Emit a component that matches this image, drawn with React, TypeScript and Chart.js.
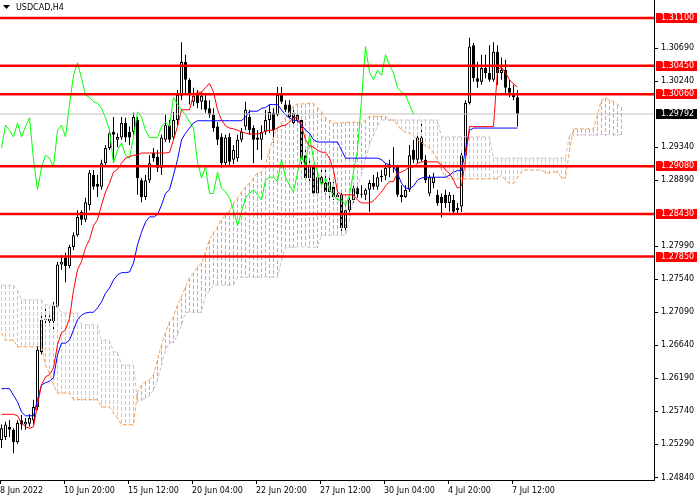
import React, { useEffect, useRef } from "react";
import { Chart, registerables } from "chart.js";

Chart.register(...registerables);

const symbolTitle = "USDCAD,H4";

const xTickLabels = ["8 Jun 2022", "10 Jun 20:00", "15 Jun 12:00", "20 Jun 04:00", "22 Jun 20:00", "27 Jun 12:00", "30 Jun 04:00", "4 Jul 20:00", "7 Jul 12:00"];
const xTickBars = [0, 16, 32, 48, 64, 80, 96, 112, 128];

const yTickValues = [1.3069, 1.3024, 1.2934, 1.2889, 1.2799, 1.2754, 1.2709, 1.2664, 1.2619, 1.2574, 1.2529, 1.2484];

const levelValues = [1.311, 1.3045, 1.3006, 1.2908, 1.2843, 1.2785];

const opens = [
  1.2535, 1.2539, 1.2553, 1.2549, 1.2532, 1.2562, 1.2556, 1.2557, 1.2562, 1.2580,
  1.2655, 1.2699, 1.2700, 1.2697, 1.2716, 1.2774, 1.2783, 1.2772, 1.2798, 1.2814,
  1.2846, 1.2835, 1.2855, 1.2896, 1.2884, 1.2880, 1.2912, 1.2933, 1.2955, 1.2944,
  1.2947, 1.2967, 1.2955, 1.2955, 1.2971, 1.2889, 1.2866, 1.2889, 1.2926, 1.2921,
  1.2906, 1.2944, 1.2964, 1.2947, 1.2971, 1.3004, 1.3050, 1.3026, 1.2996, 1.3005,
  1.2996, 1.2998, 1.2987, 1.2978, 1.2962, 1.2948, 1.2912, 1.2948, 1.2917, 1.2919,
  1.2944, 1.2962, 1.2975, 1.2960, 1.2947, 1.2944, 1.2955, 1.2971, 1.2981, 1.2978,
  1.3005, 1.2992, 1.2992, 1.2981, 1.2978, 1.2971, 1.2923, 1.2892, 1.2907, 1.2871,
  1.2893, 1.2885, 1.2873, 1.2880, 1.2866, 1.2869, 1.2824, 1.2848, 1.2862, 1.2878,
  1.2870, 1.2869, 1.2876, 1.2885, 1.2880, 1.2893, 1.2895, 1.2906, 1.2910, 1.2907,
  1.2869, 1.2866, 1.2876, 1.2930, 1.2917, 1.2947, 1.2917, 1.2871, 1.2885, 1.2869,
  1.2866, 1.2869, 1.2858, 1.2862, 1.2848, 1.2853, 1.2923, 1.2994, 1.3073, 1.3028,
  1.3023, 1.3042, 1.3035, 1.3026, 1.3064, 1.3035, 1.3039, 1.3015, 1.3008, 1.3002,
];

const highs = [
  1.2556, 1.2560, 1.2562, 1.2551, 1.2562, 1.2569, 1.2565, 1.2570, 1.2590, 1.2665,
  1.2704, 1.2716, 1.2705, 1.2723, 1.2778, 1.2787, 1.2790, 1.2801, 1.2818, 1.2848,
  1.2848, 1.2865, 1.2903, 1.2903, 1.2896, 1.2917, 1.2937, 1.2957, 1.2975, 1.2953,
  1.2975, 1.2974, 1.2962, 1.2981, 1.2975, 1.2892, 1.2896, 1.2923, 1.2933, 1.2930,
  1.2951, 1.2978, 1.2971, 1.2982, 1.3012, 1.3077, 1.3060, 1.3028, 1.3015, 1.3012,
  1.3009, 1.3005, 1.2998, 1.2987, 1.2968, 1.2953, 1.2951, 1.2953, 1.2937, 1.2951,
  1.2960, 1.2996, 1.2985, 1.2964, 1.2957, 1.2964, 1.2985, 1.2992, 1.2987, 1.3016,
  1.3016, 1.2998, 1.2998, 1.2987, 1.2985, 1.2974, 1.2930, 1.2917, 1.2912, 1.2900,
  1.2910, 1.2906, 1.2892, 1.2887, 1.2876, 1.2873, 1.2855, 1.2869, 1.2882, 1.2885,
  1.2882, 1.2878, 1.2889, 1.2896, 1.2900, 1.2903, 1.2912, 1.2917, 1.2934, 1.2910,
  1.2882, 1.2882, 1.2937, 1.2944, 1.2953, 1.2967, 1.2923, 1.2896, 1.2899, 1.2876,
  1.2871, 1.2876, 1.2873, 1.2869, 1.2858, 1.2926, 1.2998, 1.3083, 1.3076, 1.3050,
  1.3060, 1.3060, 1.3073, 1.3077, 1.3073, 1.3056, 1.3053, 1.3026, 1.3019, 1.3012,
];

const lows = [
  1.2524, 1.2535, 1.2539, 1.2517, 1.2530, 1.2549, 1.2549, 1.2553, 1.2556, 1.2576,
  1.2652, 1.2690, 1.2689, 1.2681, 1.2714, 1.2767, 1.2750, 1.2769, 1.2794, 1.2812,
  1.2828, 1.2832, 1.2848, 1.2876, 1.2866, 1.2876, 1.2910, 1.2930, 1.2917, 1.2934,
  1.2944, 1.2941, 1.2937, 1.2951, 1.2869, 1.2859, 1.2862, 1.2885, 1.2914, 1.2900,
  1.2896, 1.2941, 1.2940, 1.2944, 1.2964, 1.2998, 1.3005, 1.2992, 1.2990, 1.2987,
  1.2985, 1.2981, 1.2974, 1.2955, 1.2937, 1.2906, 1.2908, 1.2908, 1.2911, 1.2914,
  1.2941, 1.2957, 1.2951, 1.2912, 1.2930, 1.2917, 1.2951, 1.2953, 1.2940, 1.2976,
  1.2993, 1.2982, 1.2971, 1.2962, 1.2964, 1.2910, 1.2889, 1.2882, 1.2866, 1.2867,
  1.2878, 1.2869, 1.2865, 1.2862, 1.2862, 1.2817, 1.2818, 1.2844, 1.2858, 1.2865,
  1.2865, 1.2862, 1.2846, 1.2876, 1.2876, 1.2887, 1.2889, 1.2893, 1.2899, 1.2866,
  1.2859, 1.2865, 1.2873, 1.2912, 1.2912, 1.2914, 1.2885, 1.2867, 1.2878, 1.2854,
  1.2838, 1.2851, 1.2846, 1.2843, 1.2844, 1.2846, 1.2919, 1.2992, 1.3023, 1.3015,
  1.3019, 1.3028, 1.3023, 1.3023, 1.3019, 1.3026, 1.3005, 1.3002, 1.2998, 1.2962,
];

const closes = [
  1.2551, 1.2556, 1.2549, 1.2532, 1.2558, 1.2556, 1.2560, 1.2565, 1.2580, 1.2658,
  1.2699, 1.2700, 1.2697, 1.2718, 1.2774, 1.2778, 1.2772, 1.2798, 1.2814, 1.2839,
  1.2835, 1.2859, 1.2899, 1.2880, 1.2880, 1.2912, 1.2933, 1.2953, 1.2951, 1.2948,
  1.2967, 1.2947, 1.2947, 1.2975, 1.2892, 1.2866, 1.2889, 1.2912, 1.2919, 1.2906,
  1.2947, 1.2964, 1.2944, 1.2971, 1.3005, 1.3050, 1.3026, 1.3005, 1.3004, 1.2994,
  1.3004, 1.2985, 1.2978, 1.2960, 1.2944, 1.2912, 1.2947, 1.2914, 1.2930, 1.2944,
  1.2955, 1.2985, 1.2957, 1.2944, 1.2944, 1.2955, 1.2971, 1.2982, 1.2957, 1.3005,
  1.2996, 1.2985, 1.2975, 1.2967, 1.2971, 1.2917, 1.2892, 1.2910, 1.2871, 1.2893,
  1.2885, 1.2873, 1.2887, 1.2866, 1.2869, 1.2824, 1.2848, 1.2862, 1.2878, 1.2870,
  1.2869, 1.2876, 1.2885, 1.2880, 1.2893, 1.2895, 1.2906, 1.2910, 1.2907, 1.2869,
  1.2866, 1.2876, 1.2923, 1.2917, 1.2947, 1.2917, 1.2889, 1.2893, 1.2893, 1.2858,
  1.2858, 1.2858, 1.2869, 1.2846, 1.2851, 1.2923, 1.2994, 1.3071, 1.3028, 1.3023,
  1.3042, 1.3035, 1.3026, 1.3064, 1.3035, 1.3039, 1.3015, 1.3008, 1.3002, 1.29792,
];

const tenkan = [
  1.2570, 1.2570, 1.2570, 1.2570, 1.2568, 1.2558, 1.2553, 1.2551, 1.2553, 1.2583,
  1.2610, 1.2621, 1.2624, 1.2633, 1.2665, 1.2681, 1.2685, 1.2701, 1.2739, 1.2767,
  1.2778, 1.2797, 1.2808, 1.2827, 1.2835, 1.2855, 1.2873, 1.2885, 1.2900, 1.2904,
  1.2912, 1.2919, 1.2921, 1.2923, 1.2923, 1.2926, 1.2926, 1.2926, 1.2926, 1.2926,
  1.2926, 1.2926, 1.2927, 1.2944, 1.2962, 1.2985, 1.2985, 1.2985, 1.3005, 1.3009,
  1.3009, 1.3015, 1.3021, 1.3009, 1.2985, 1.2971, 1.2963, 1.2960, 1.2959, 1.2957,
  1.2955, 1.2953, 1.2952, 1.2952, 1.2952, 1.2953, 1.2956, 1.2957, 1.2957, 1.2960,
  1.2963, 1.2964, 1.2968, 1.2974, 1.2974, 1.2964, 1.2944, 1.2936, 1.2934, 1.2930,
  1.2927, 1.2927, 1.2919, 1.2903, 1.2873, 1.2869, 1.2869, 1.2869, 1.2869, 1.2862,
  1.2858, 1.2858, 1.2858, 1.2861, 1.2867, 1.2873, 1.2881, 1.2887, 1.2887, 1.2899,
  1.2900, 1.2903, 1.2907, 1.2907, 1.2912, 1.2914, 1.2914, 1.2914, 1.2914, 1.2914,
  1.2910, 1.2903, 1.2898, 1.2889, 1.2878, 1.2881, 1.2917, 1.2962, 1.2962, 1.2962,
  1.2962, 1.2962, 1.2962, 1.2962, 1.3039, 1.3043, 1.3035, 1.3026, 1.3020, 1.3016,
];

const kijun = [
  1.2605, 1.2605, 1.2605, 1.2596, 1.2587, 1.2573, 1.2568, 1.2568, 1.2568, 1.2590,
  1.2610, 1.2613, 1.2615, 1.2620, 1.2651, 1.2667, 1.2667, 1.2671, 1.2685, 1.2699,
  1.2705, 1.2708, 1.2709, 1.2709, 1.2715, 1.2723, 1.2735, 1.2742, 1.2753, 1.2760,
  1.2763, 1.2763, 1.2764, 1.2776, 1.2801, 1.2818, 1.2832, 1.2839, 1.2839, 1.2842,
  1.2855, 1.2871, 1.2876, 1.2896, 1.2917, 1.2944, 1.2953, 1.2960, 1.2967, 1.2970,
  1.2970, 1.2970, 1.2970, 1.2970, 1.2970, 1.2970, 1.2970, 1.2970, 1.2970, 1.2970,
  1.2970, 1.2975, 1.2983, 1.2983, 1.2983, 1.2987, 1.2988, 1.2992, 1.2992, 1.2992,
  1.2985, 1.2978, 1.2974, 1.2971, 1.2970, 1.2964, 1.2957, 1.2953, 1.2944, 1.2941,
  1.2941, 1.2941, 1.2941, 1.2941, 1.2941, 1.2930, 1.2919, 1.2919, 1.2919, 1.2919,
  1.2919, 1.2919, 1.2919, 1.2919, 1.2919, 1.2917, 1.2912, 1.2910, 1.2908, 1.2898,
  1.2885, 1.2878, 1.2878, 1.2881, 1.2889, 1.2892, 1.2893, 1.2893, 1.2893, 1.2893,
  1.2893, 1.2893, 1.2896, 1.2900, 1.2902, 1.2902, 1.2930, 1.2957, 1.2960, 1.2960,
  1.2960, 1.2960, 1.2960, 1.2960, 1.2960, 1.2960, 1.2960, 1.2960, 1.2960, 1.2960,
];

const chikou = [
  1.2933, 1.2964, 1.2957, 1.2948, 1.2967, 1.2948, 1.2962, 1.2974, 1.2917, 1.2876,
  1.2906, 1.2923, 1.2919, 1.2907, 1.2957, 1.2964, 1.2948, 1.2992, 1.3032, 1.3049,
  1.3028, 1.3005, 1.3002, 1.2996, 1.2994, 1.2987, 1.2974, 1.2957, 1.2912, 1.2930,
  1.2940, 1.2923, 1.2919, 1.2948, 1.2982, 1.2975, 1.2957, 1.2947, 1.2947, 1.2947,
  1.2962, 1.2968, 1.2962, 1.3002, 1.2992, 1.2985, 1.2978, 1.2968, 1.2960, 1.2914,
  1.2892, 1.2907, 1.2871, 1.2871, 1.2900, 1.2878, 1.2873, 1.2865, 1.2848, 1.2827,
  1.2846, 1.2865, 1.2871, 1.2876, 1.2869, 1.2862, 1.2889, 1.2893, 1.2893, 1.2887,
  1.2917, 1.2893, 1.2882, 1.2873, 1.2899, 1.2923, 1.2907, 1.2951, 1.2917, 1.2900,
  1.2882, 1.2892, 1.2876, 1.2869, 1.2862, 1.2862, 1.2855, 1.2869, 1.2900, 1.2930,
  1.2998, 1.3071, 1.3036, 1.3026, 1.3039, 1.3032, 1.3060, 1.3046, 1.3035, 1.3015,
  1.3009, 1.3005, 1.2992, 1.2979,
];

const spanA = [
  1.2681, 1.2671, 1.2671, 1.2671, 1.2662, 1.2662, 1.2662, 1.2662, 1.2662, 1.2662,
  1.2662, 1.2637, 1.2626, 1.2610, 1.2599, 1.2599, 1.2599, 1.2599, 1.2590, 1.2590,
  1.2590, 1.2590, 1.2590, 1.2590, 1.2590, 1.2580, 1.2580, 1.2580, 1.2572, 1.2565,
  1.2556, 1.2556, 1.2556, 1.2556, 1.2600, 1.2610, 1.2614, 1.2617, 1.2624, 1.2644,
  1.2665, 1.2681, 1.2696, 1.2703, 1.2719, 1.2730, 1.2744, 1.2756, 1.2763, 1.2771,
  1.2776, 1.2791, 1.2808, 1.2818, 1.2825, 1.2835, 1.2842, 1.2848, 1.2858, 1.2865,
  1.2873, 1.2880, 1.2885, 1.2892, 1.2899, 1.2900, 1.2910, 1.2930, 1.2947, 1.2960,
  1.2967, 1.2974, 1.2982, 1.2990, 1.2993, 1.2993, 1.2993, 1.2994, 1.2994, 1.2988,
  1.2982, 1.2974, 1.2971, 1.2967, 1.2967, 1.2967, 1.2968, 1.2968, 1.2968, 1.2968,
  1.2966, 1.2971, 1.2976, 1.2976, 1.2976, 1.2976, 1.2976, 1.2971, 1.2971, 1.2964,
  1.2957, 1.2955, 1.2953, 1.2949, 1.2944, 1.2940, 1.2936, 1.2933, 1.2926, 1.2917,
  1.2903, 1.2893, 1.2891, 1.2891, 1.2891, 1.2891, 1.2891, 1.2891, 1.2891, 1.2891,
  1.2891, 1.2891, 1.2891, 1.2891, 1.2891, 1.2896, 1.2889, 1.2885, 1.2885, 1.2893,
  1.2900, 1.2903, 1.2903, 1.2903, 1.2903, 1.2903, 1.2899, 1.2899, 1.2900, 1.2900,
  1.2892, 1.2892, 1.2930, 1.2959, 1.2959, 1.2959, 1.2959, 1.2959, 1.2959, 1.2978,
  1.2998, 1.3001, 1.2998, 1.2996, 1.2992, 1.2989,
];

const spanB = [
  1.2746, 1.2746, 1.2746, 1.2746, 1.2739, 1.2726, 1.2726, 1.2726, 1.2726, 1.2726,
  1.2726, 1.2719, 1.2719, 1.2719, 1.2719, 1.2708, 1.2708, 1.2708, 1.2708, 1.2708,
  1.2692, 1.2692, 1.2692, 1.2692, 1.2692, 1.2671, 1.2671, 1.2671, 1.2655, 1.2655,
  1.2637, 1.2637, 1.2637, 1.2637, 1.2587, 1.2590, 1.2592, 1.2596, 1.2603, 1.2617,
  1.2637, 1.2658, 1.2667, 1.2669, 1.2678, 1.2692, 1.2709, 1.2709, 1.2709, 1.2709,
  1.2709, 1.2732, 1.2739, 1.2746, 1.2746, 1.2746, 1.2746, 1.2746, 1.2746, 1.2757,
  1.2757, 1.2757, 1.2757, 1.2757, 1.2757, 1.2757, 1.2757, 1.2757, 1.2757, 1.2757,
  1.2780, 1.2798, 1.2798, 1.2798, 1.2798, 1.2798, 1.2798, 1.2798, 1.2798, 1.2798,
  1.2814, 1.2814, 1.2814, 1.2814, 1.2814, 1.2814, 1.2814, 1.2835, 1.2862, 1.2882,
  1.2896, 1.2917, 1.2937, 1.2951, 1.2962, 1.2971, 1.2971, 1.2971, 1.2971, 1.2971,
  1.2971, 1.2971, 1.2971, 1.2971, 1.2971, 1.2971, 1.2971, 1.2971, 1.2971, 1.2971,
  1.2948, 1.2948, 1.2948, 1.2948, 1.2948, 1.2948, 1.2948, 1.2948, 1.2948, 1.2948,
  1.2948, 1.2948, 1.2948, 1.2919, 1.2919, 1.2919, 1.2919, 1.2919, 1.2919, 1.2919,
  1.2919, 1.2919, 1.2919, 1.2919, 1.2919, 1.2919, 1.2919, 1.2919, 1.2919, 1.2919,
  1.2919, 1.2919, 1.2951, 1.2951, 1.2951, 1.2951, 1.2951, 1.2951, 1.2951, 1.2951,
  1.2951, 1.2951, 1.2951, 1.2951, 1.2951, 1.2951,
];

// ---- layout / style constants ----
const CANVAS_W = 700;
const CANVAS_H = 500;
const PLOT_RIGHT = 654;
const PLOT_BOTTOM = 480;
const BAR_PX = 4;
const X_MIN = -0.375;
const X_MAX = X_MIN + PLOT_RIGHT / BAR_PX;
const Y_MIN = 1.24805;
const Y_MAX = 1.31345;
const FONT_FAMILY = "'DejaVu Sans', 'Liberation Sans', sans-serif";
const FONT_SIZE = 8;
const SANDY = "rgb(244,164,96)";
const THISTLE = "rgb(216,191,216)";
const DASH_ON = 4;
const DASH_PERIOD = 6;
const KUMO_STROKE = 1;

// Kumo: a dotted vertical stroke per bar between Span A and Span B,
// positioned through the chart's own x / y scales, drawn right after the candle bodies.
const kumoPlugin = {
  id: "kumo",
  afterDatasetDraw(chart: any, args: any) {
    if (args.meta._dataset?.label !== "bodies") return;
    const { ctx, chartArea } = chart;
    const xs = chart.scales.x;
    const ys = chart.scales.y;
    ctx.save();
    ctx.beginPath();
    ctx.rect(chartArea.left, chartArea.top, chartArea.right - chartArea.left, chartArea.bottom - chartArea.top);
    ctx.clip();
    spanA.forEach((a, i) => {
      const b = spanB[i];
      const px = Math.floor(xs.getPixelForValue(i));
      const pa = ys.getPixelForValue(a);
      const pb = ys.getPixelForValue(b);
      const top = Math.round(Math.min(pa, pb));
      const bottom = Math.round(Math.max(pa, pb));
      ctx.fillStyle = a >= b ? SANDY : THISTLE;
      for (let yy = top; yy <= bottom; yy += DASH_PERIOD) {
        ctx.fillRect(px, yy, KUMO_STROKE, Math.min(DASH_ON, bottom - yy + 1));
      }
    });
    ctx.restore();
  },
};

const overlayPlugin = {
  id: "mtOverlay",
  afterDraw(chart: any) {
    const { ctx, chartArea } = chart;
    const y = chart.scales.y;
    ctx.save();
    ctx.font = `${FONT_SIZE}px ${FONT_FAMILY}`;
    ctx.textBaseline = "middle";
    ctx.textAlign = "left";
    const box = (value: number, bg: string) => {
      const py = Math.round(y.getPixelForValue(value));
      ctx.fillStyle = bg;
      ctx.fillRect(chartArea.right + 2, py - 5, 41, 10);
      ctx.fillStyle = "#ffffff";
      ctx.fillText(value.toFixed(5), chartArea.right + 7, py);
    };
    levelValues.forEach((l) => box(l, "#ff0000"));
    box(closes[closes.length - 1], "#000000");

    ctx.fillStyle = "#000000";
    ctx.beginPath();
    ctx.moveTo(3, 5);
    ctx.lineTo(10, 5);
    ctx.lineTo(6.5, 9);
    ctx.closePath();
    ctx.fill();
    ctx.fillText(symbolTitle, 16, 8);
    ctx.restore();
  },
};

export default function App() {
  const ref = useRef<HTMLCanvasElement>(null);

  useEffect(() => {
    const canvas = ref.current;
    if (!canvas) return;
    Chart.defaults.font.family = FONT_FAMILY;
    Chart.defaults.font.size = FONT_SIZE;

    const series = (arr: number[]) => arr.map((v, i) => ({ x: i, y: v }));
    const bid = closes[closes.length - 1];

    const lineBase = {
      type: "line" as const,
      pointRadius: 0,
      borderWidth: 1,
      tension: 0,
      fill: false,
    };

    const datasets: any[] = [];
    levelValues.forEach((l) => {
      datasets.push({
        ...lineBase,
        label: "level",
        data: [{ x: X_MIN, y: l }, { x: X_MAX, y: l }],
        borderColor: "#ff0000",
        borderWidth: 2.5,
        order: 0,
      });
    });
    datasets.push({
      ...lineBase,
      label: "bid",
      data: [{ x: X_MIN, y: bid }, { x: X_MAX, y: bid }],
      borderColor: "#c0c0c0",
      order: 0,
    });
    datasets.push({ ...lineBase, label: "tenkan", data: series(tenkan), borderColor: "#ff0000", order: 1 });
    datasets.push({ ...lineBase, label: "kijun", data: series(kijun), borderColor: "#0000ff", order: 2 });
    datasets.push({ ...lineBase, label: "chikou", data: series(chikou), borderColor: "#00ff00", order: 3 });
    datasets.push({ ...lineBase, label: "spanA", data: series(spanA), borderColor: SANDY, borderDash: [4, 2], order: 4 });
    datasets.push({ ...lineBase, label: "spanB", data: series(spanB), borderColor: THISTLE, borderDash: [4, 2], order: 4 });

    const barBase = {
      type: "bar" as const,
      grouped: false,
      barPercentage: 1,
      categoryPercentage: 1,
      inflateAmount: 0,
      borderSkipped: false,
    };
    datasets.push({
      ...barBase,
      label: "bodies",
      data: opens.map((o, i) => ({ x: i, y: [o, closes[i]] })),
      backgroundColor: (c: any) => (closes[c.dataIndex] >= opens[c.dataIndex] ? "#ffffff" : "#000000"),
      borderColor: "#000000",
      borderWidth: 1,
      maxBarThickness: 3,
      minBarLength: 1,
      order: 6,
    });
    datasets.push({
      ...barBase,
      label: "wicks",
      data: lows.map((l, i) => ({ x: i, y: [l, highs[i]] })),
      backgroundColor: "#000000",
      borderWidth: 0,
      maxBarThickness: 1,
      order: 7,
    });

    const chart = new Chart(canvas, {
      type: "bar",
      data: { datasets },
      options: {
        responsive: false,
        animation: false,
        devicePixelRatio: 1,
        events: [],
        layout: { padding: 0 },
        plugins: {
          legend: { display: false },
          tooltip: { enabled: false },
          title: { display: false },
          colors: { enabled: false },
        },
        scales: {
          x: {
            type: "linear",
            position: "bottom",
            min: X_MIN,
            max: X_MAX,
            bounds: "data",
            offset: false,
            afterBuildTicks: (s: any) => {
              s.ticks = xTickBars.map((b) => ({ value: b + X_MIN }));
            },
            afterFit: (s: any) => {
              s.height = CANVAS_H - PLOT_BOTTOM;
              s.paddingLeft = 0;
              s.paddingRight = 0;
            },
            ticks: {
              callback: (_v: any, i: number) => xTickLabels[i],
              align: "start",
              maxRotation: 0,
              minRotation: 0,
              autoSkip: false,
              color: "#000000",
              padding: 2,
              font: { family: FONT_FAMILY, size: FONT_SIZE },
            },
            grid: { display: true, drawOnChartArea: false, drawTicks: true, tickLength: 4, color: "#000000", offset: false },
            border: { display: true, color: "#000000", width: 1 },
          },
          y: {
            type: "linear",
            position: "right",
            min: Y_MIN,
            max: Y_MAX,
            bounds: "data",
            beginAtZero: false,
            afterBuildTicks: (s: any) => {
              s.ticks = yTickValues.map((v) => ({ value: v }));
            },
            afterFit: (s: any) => {
              s.width = CANVAS_W - PLOT_RIGHT;
              s.paddingTop = 0;
              s.paddingBottom = 0;
            },
            ticks: {
              callback: (v: any) => Number(v).toFixed(5),
              autoSkip: false,
              color: "#000000",
              padding: 3,
              font: { family: FONT_FAMILY, size: FONT_SIZE },
            },
            grid: { display: true, drawOnChartArea: false, drawTicks: true, tickLength: 4, color: "#000000" },
            border: { display: true, color: "#000000", width: 1 },
          },
        },
      } as any,
      plugins: [kumoPlugin, overlayPlugin],
    });

    return () => chart.destroy();
  }, []);

  return (
    <div style={{ position: "fixed", left: 0, top: 0, width: CANVAS_W, height: CANVAS_H, background: "#ffffff" }}>
      <canvas ref={ref} width={CANVAS_W} height={CANVAS_H} style={{ display: "block", width: CANVAS_W, height: CANVAS_H }} />
    </div>
  );
}
